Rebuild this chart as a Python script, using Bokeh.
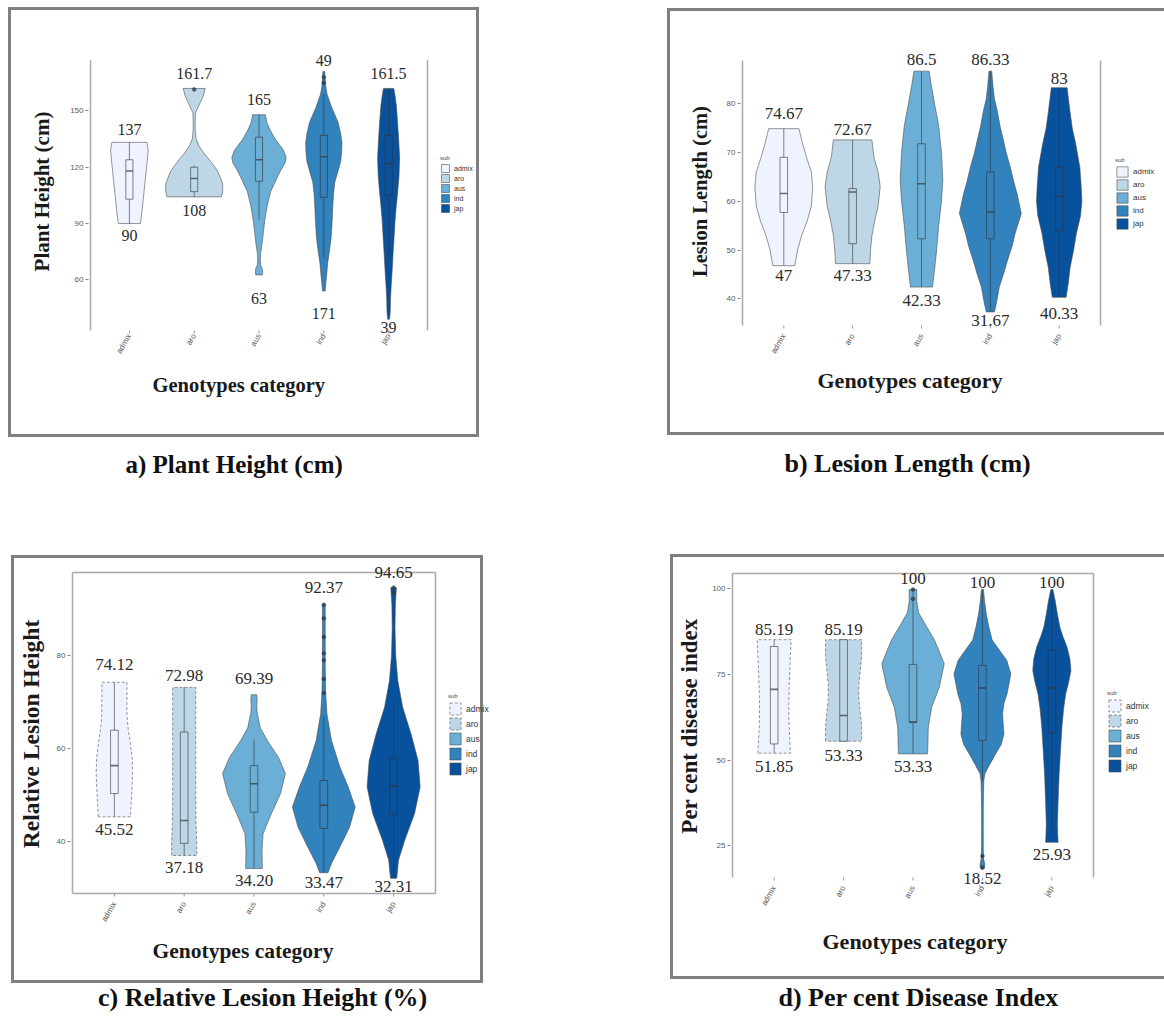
import math
from bokeh.plotting import figure
from bokeh.models import (ColumnDataSource, LabelSet, Legend, LegendItem, FixedTicker,
                          Range1d, Title)
from bokeh.layouts import column, row
from bokeh.embed import file_html
from bokeh.resources import INLINE

categories = ["admix", "aro", "aus", "ind", "jap"]
colors = ["#eff3ff", "#bdd7e7", "#6baed6", "#3182bd", "#08519c"]

# ---------------- a) Plant Height (cm) ----------------
ph_ticks = [60, 90, 120, 150]
ph_admix_lvl = [90, 95, 100, 105, 110, 115, 120, 125, 129, 133.3]
ph_admix_hw = [0.17, 0.19, 0.205, 0.22, 0.235, 0.25, 0.265, 0.28, 0.29, 0.27]
ph_aro_lvl = [104.2, 107, 111, 114, 118, 121, 125, 128, 131, 135, 140, 145, 149, 152, 155, 158, 162]
ph_aro_hw = [0.42, 0.44, 0.44, 0.41, 0.36, 0.3, 0.21, 0.14, 0.08, 0.03, 0.015, 0.015, 0.02, 0.06, 0.1, 0.14, 0.17]
ph_aus_lvl = [62.6, 64, 66, 68, 71, 74, 80, 86, 92, 100, 107, 113, 118, 122, 125, 129, 135, 140, 144, 148]
ph_aus_hw = [0.05, 0.055, 0.05, 0.025, 0.02, 0.025, 0.05, 0.07, 0.09, 0.13, 0.18, 0.26, 0.33, 0.4, 0.42, 0.38, 0.25, 0.17, 0.12, 0.1]
ph_ind_lvl = [54, 58, 63, 69, 76, 83, 92, 100, 106, 112, 118, 123, 128, 133, 138, 144, 148, 152, 156, 159, 163, 167, 171]
ph_ind_hw = [0.02, 0.03, 0.045, 0.06, 0.09, 0.115, 0.13, 0.14, 0.15, 0.17, 0.22, 0.26, 0.275, 0.28, 0.26, 0.22, 0.17, 0.12, 0.08, 0.05, 0.03, 0.02, 0.015]
ph_jap_lvl = [39, 43, 50, 57, 65, 74.5, 83, 92, 100, 107, 115, 125, 135, 143, 152.6, 158, 162]
ph_jap_hw = [0.015, 0.025, 0.03, 0.04, 0.055, 0.07, 0.085, 0.1, 0.12, 0.14, 0.16, 0.17, 0.155, 0.14, 0.12, 0.1, 0.08]
ph_q1 = [103, 107, 112.5, 104, 105]
ph_med = [118, 114, 124, 125.6, 122]
ph_q3 = [124, 120, 136, 137, 137]
ph_lo = [90, 104.2, 92, 72, 72]
ph_hi = [133.3, 121, 148, 159, 162]
ph_out_x = [2, 4, 4]
ph_out_y = [161.5, 165, 168]
ph_top_txt = ["137", "161.7", "165", "49", "161.5"]
ph_top_y = [140.1, 169.8, 156.2, 177.1, 169.8]
ph_bot_txt = ["90", "108", "63", "171", "39"]
ph_bot_y = [83.4, 96.9, 50.1, 41.8, 34.6]

# ---------------- b) Lesion Length (cm) ----------------
ll_ticks = [40, 50, 60, 70, 80]
ll_admix_lvl = [46.8, 50, 53, 56, 59, 62.9, 66, 69, 72, 74.9]
ll_admix_hw = [0.16, 0.2, 0.26, 0.34, 0.4, 0.42, 0.4, 0.33, 0.27, 0.22]
ll_aro_lvl = [47.2, 50, 53, 56, 59, 63, 66, 69, 72.6]
ll_aro_hw = [0.25, 0.26, 0.28, 0.32, 0.37, 0.4, 0.37, 0.31, 0.28]
ll_aus_lvl = [42.4, 46, 50, 55, 60, 64.5, 70, 75.5, 80, 84, 86.7]
ll_aus_hw = [0.16, 0.19, 0.22, 0.25, 0.29, 0.31, 0.29, 0.25, 0.19, 0.14, 0.11]
ll_ind_lvl = [37.3, 40, 42.4, 45, 47.9, 51, 53.4, 57.5, 61.5, 64, 67, 70, 72.5, 75.5, 78.6, 81, 83.4, 86.7]
ll_ind_hw = [0.06, 0.1, 0.13, 0.19, 0.25, 0.32, 0.36, 0.45, 0.39, 0.34, 0.29, 0.23, 0.19, 0.14, 0.1, 0.06, 0.04, 0.02]
ll_jap_lvl = [40.3, 43, 46.5, 50, 53.4, 57, 60, 63, 67, 71.8, 75, 78.6, 83.3]
ll_jap_hw = [0.1, 0.13, 0.16, 0.21, 0.25, 0.31, 0.33, 0.32, 0.3, 0.24, 0.19, 0.155, 0.115]
ll_q1 = [57.7, 51.3, 52.3, 52.3, 54]
ll_med = [61.6, 61.9, 63.6, 57.8, 61]
ll_q3 = [69, 62.6, 71.8, 66, 67]
ll_lo = [46.8, 47.2, 42.4, 37.3, 40.3]
ll_hi = [74.9, 72.6, 86.7, 86.7, 83.3]
ll_out_x = []
ll_out_y = []
ll_top_txt = ["74.67", "72.67", "86.5", "86.33", "83"]
ll_top_y = [78.0, 74.7, 89.1, 89.1, 85.2]
ll_bot_txt = ["47", "47.33", "42.33", "31.67", "40.33"]
ll_bot_y = [44.8, 44.8, 39.7, 35.6, 37.0]

# ---------------- c) Relative Lesion Height (%) ----------------
rl_ticks = [40, 60, 80]
rl_admix_lvl = [45.4, 48, 52, 55, 58, 61, 64, 67, 70, 74.3]
rl_admix_hw = [0.23, 0.24, 0.255, 0.26, 0.255, 0.23, 0.2, 0.18, 0.18, 0.18]
rl_aro_lvl = [37.1, 40, 44, 50, 56, 62, 68, 73.2]
rl_aro_hw = [0.18, 0.18, 0.17, 0.165, 0.165, 0.165, 0.165, 0.165]
rl_aus_lvl = [34.3, 38.3, 41.8, 46.1, 50.4, 54.7, 58.2, 61.8, 64.5, 67.8, 69, 70.5, 71.6]
rl_aus_hw = [0.12, 0.115, 0.13, 0.25, 0.38, 0.45, 0.35, 0.19, 0.09, 0.045, 0.04, 0.045, 0.04]
rl_ind_lvl = [33.4, 35.4, 38.9, 43.2, 47.5, 51.8, 56.1, 61.8, 67.5, 72.5, 78, 84, 90.9]
rl_ind_hw = [0.06, 0.11, 0.23, 0.37, 0.45, 0.35, 0.23, 0.11, 0.045, 0.025, 0.02, 0.02, 0.02]
rl_jap_lvl = [32.2, 36.1, 40.4, 46.1, 51.8, 57.5, 63.2, 68.9, 74.6, 80, 86, 91, 94.6]
rl_jap_hw = [0.045, 0.07, 0.16, 0.3, 0.38, 0.35, 0.25, 0.13, 0.06, 0.03, 0.02, 0.025, 0.04]
rl_q1 = [50.4, 39.7, 46.4, 42.9, 46]
rl_med = [56.4, 44.6, 52.5, 47.9, 52]
rl_q3 = [64, 63.6, 56.4, 53.2, 58]
rl_lo = [45.4, 37.1, 34.3, 33.4, 32.2]
rl_hi = [74.3, 73.2, 62, 67, 70]
rl_out_x = [4, 4, 4, 4, 4, 4, 4, 5, 5]
rl_out_y = [72, 75, 79, 80.5, 84, 88, 90.9, 93.5, 94.6]
rl_top_txt = ["74.12", "72.98", "69.39", "92.37", "94.65"]
rl_top_y = [78.2, 75.7, 75.0, 94.6, 97.9]
rl_bot_txt = ["45.52", "37.18", "34.20", "33.47", "32.31"]
rl_bot_y = [42.65, 34.5, 31.8, 31.2, 30.5]

# ---------------- d) Per cent Disease Index ----------------
pd_ticks = [25, 50, 75, 100]
pd_admix_lvl = [52, 56, 60, 65, 70.6, 76, 81, 85.1]
pd_admix_hw = [0.235, 0.225, 0.215, 0.21, 0.215, 0.225, 0.235, 0.245]
pd_aro_lvl = [55.5, 60, 64, 68, 72, 76, 80, 85.1]
pd_aro_hw = [0.26, 0.26, 0.24, 0.22, 0.22, 0.24, 0.26, 0.26]
pd_aus_lvl = [51.8, 55, 59.6, 65.4, 71.3, 78.1, 85, 89.8, 93, 96.3, 99.7]
pd_aus_hw = [0.21, 0.215, 0.22, 0.27, 0.38, 0.45, 0.31, 0.17, 0.08, 0.055, 0.055]
pd_ind_lvl = [18.5, 19.5, 21.5, 25, 30, 35, 40, 44, 46, 48.5, 51.8, 54.5, 57.6, 60.5, 63.5, 66.5, 69.3, 75.1, 79.1, 85, 89, 92.7, 96.5, 99.7]
pd_ind_hw = [0.03, 0.035, 0.015, 0.012, 0.012, 0.012, 0.015, 0.02, 0.035, 0.1, 0.19, 0.27, 0.31, 0.3, 0.29, 0.31, 0.355, 0.41, 0.35, 0.14, 0.09, 0.055, 0.03, 0.015]
pd_jap_lvl = [26, 28, 31.3, 38, 46, 53, 59.6, 65, 69.3, 72.5, 76.1, 79.5, 82.9, 86, 88.8, 92.5, 96.3, 99.7]
pd_jap_hw = [0.09, 0.085, 0.08, 0.09, 0.105, 0.125, 0.145, 0.17, 0.2, 0.24, 0.275, 0.26, 0.22, 0.16, 0.115, 0.08, 0.05, 0.015]
pd_q1 = [54.7, 55.5, 61, 55.7, 58]
pd_med = [70.6, 63, 61.1, 71, 71]
pd_q3 = [83.1, 85.1, 77.9, 77.6, 82]
pd_lo = [52, 55.5, 52, 44, 30]
pd_hi = [85.1, 85.1, 99.7, 99.7, 99.7]
pd_out_x = [3, 3, 4, 4]
pd_out_y = [97, 99.7, 18.6, 22]
pd_top_txt = ["85.19", "85.19", "100", "100", "100"]
pd_top_y = [88.0, 88.0, 102.9, 101.9, 101.9]
pd_bot_txt = ["51.85", "53.33", "53.33", "18.52", "25.93"]
pd_bot_y = [48.1, 51.3, 48.1, 15.4, 22.6]

SERIF = "Liberation Serif"
SANS = "Liberation Sans"
EX = 2              # extra frame pixels left of the drawn panel
HAX = 27            # height of the x tick-label band
TXT_H = 1.15        # text box height per font px
GREY = "#7f7f7f"


def css_lines(rects):
    g = f"linear-gradient({GREY},{GREY})"
    return {"background-image": ", ".join([g] * len(rects)),
            "background-position": ", ".join(f"{x}px {y}px" for x, y, w, h in rects),
            "background-size": ", ".join(f"{w}px {h}px" for x, y, w, h in rects),
            "background-repeat": "no-repeat"}


def border_pieces(border, ox, y0, y1, W):
    """Parts of the panel border falling inside the host spanning page rows y0..y1."""
    bl, bt, br, bb = border
    right = (br - ox) if br is not None else W + 5
    left = bl - ox
    rects = []
    if y0 <= bt < y1:
        rects.append((left, bt - y0, right - left, 3))
    top = max(bt, y0)
    bot = min(bb, y1)
    if bot > top:
        rects.append((left, top - y0, 3, bot - top))
        if br is not None:
            rects.append((right - 3, top - y0, 3, bot - top))
    if y0 <= bb - 3 < y1 or y0 < bb <= y1:
        rects.append((left, bb - 3 - y0, right - left, 3))
    return rects


def make_panel(W, H, HC, origin, vis, et, eb, mode, yr, yticks, profiles, stats, outl,
               top_lab, bot_lab, lines, border, caption, xtitle, ytitle, leg, lab_size, dashed):
    ox, oy = origin
    vl, vt, vr, vb = vis[0] - ox, vis[1] - oy, vis[2] - ox, vis[3] - oy
    ppx = (vr - vl) / 5.2
    ppy = (vb - vt) / (yr[1] - yr[0])
    al, at, ab = vl - EX, vt - et, vb + eb
    y_lo, y_hi = yr[0] - eb / ppy, yr[1] + et / ppy
    x_rng = Range1d(0.4 - EX / ppx, 0.4 + (W - vl) / ppx)
    y_rng = Range1d(y_lo, y_hi)
    if mode == "frame":
        size = dict(frame_width=W - al, frame_height=ab - at)
    else:
        size = dict(width=W, height=H)
    p = figure(x_range=x_rng, y_range=y_rng, output_backend="svg", toolbar_location=None,
               min_border_left=al, min_border_top=at,
               min_border_right=0, min_border_bottom=H - ab,
               styles=css_lines(border_pieces(border, ox, oy, oy + H, W)), **size)
    p.title.visible = False
    p.xgrid.visible = False
    p.ygrid.visible = False
    p.outline_line_color = None
    p.background_fill_color = None
    p.border_fill_color = None

    xa = p.xaxis[0]
    xa.ticker = FixedTicker(ticks=[1, 2, 3, 4, 5])
    xa.major_label_overrides = {i + 1: c for i, c in enumerate(categories)}
    xa.major_label_orientation = math.pi / 3
    xa.axis_line_color = None
    xa.major_tick_line_color = None
    xa.major_tick_out = 0
    xa.major_tick_in = 0
    xa.minor_tick_line_color = None
    xa.major_label_text_font = SANS
    xa.major_label_text_font_size = "8px"
    xa.major_label_text_color = "#5a5a5a"
    xa.major_label_standoff = 0

    ytext, ysize, ystand = ytitle
    ya = p.yaxis[0]
    ya.ticker = FixedTicker(ticks=yticks)
    ya.axis_line_color = None
    ya.major_tick_line_color = "#888888"
    ya.major_tick_out = 3
    ya.major_tick_in = 0
    ya.minor_tick_line_color = None
    ya.major_label_text_font = SANS
    ya.major_label_text_font_size = "8px"
    ya.major_label_text_color = "#5a5a5a"
    ya.major_label_standoff = 2
    ya.axis_label = ytext
    ya.axis_label_text_font = SERIF
    ya.axis_label_text_font_style = "bold"
    ya.axis_label_text_font_size = ysize
    ya.axis_label_text_color = "#1a1a1a"
    ya.axis_label_standoff = ystand

    # frame lines
    lc = "#a8a8a8"
    x0s, y0s, x1s, y1s = [0.4, 5.6], [yr[0], yr[0]], [0.4, 5.6], [yr[1], yr[1]]
    if "t" in lines:
        x0s.append(0.4); y0s.append(yr[1]); x1s.append(5.6); y1s.append(yr[1])
    if "b" in lines:
        x0s.append(0.4); y0s.append(yr[0]); x1s.append(5.6); y1s.append(yr[0])
    p.segment(x0=x0s, y0=y0s, x1=x1s, y1=y1s, line_color=lc, line_width=1.5)
    xc = [i + 1 for i in range(5)]
    p.segment(x0=xc, y0=[yr[0]] * 5, x1=xc, y1=[yr[0] - 3 / ppy] * 5,
              line_color="#999999", line_width=1)

    # violins
    rends = []
    for i, (lvl, hw) in enumerate(profiles):
        c = i + 1
        xs = [c - w for w in hw] + [c + w for w in reversed(hw)]
        ys = list(lvl) + list(reversed(lvl))
        dash = "3 2" if (dashed and i < 2) else "solid"
        r = p.patch(xs, ys, fill_color=colors[i], line_color="#4d4d4d", line_alpha=0.65,
                    line_width=0.9, line_dash=dash)
        rends.append(r)

    q1, med, q3, lo, hi = stats
    bw = 0.055
    p.segment(x0=xc, y0=lo, x1=xc, y1=hi, line_color="#333333", line_alpha=0.6, line_width=1)
    p.quad(left=[x - bw for x in xc], right=[x + bw for x in xc], bottom=q1, top=q3,
           fill_color=colors, line_color="#333333", line_alpha=0.6, line_width=1)
    p.segment(x0=[x - bw for x in xc], y0=med, x1=[x + bw for x in xc], y1=med,
              line_color="#333333", line_alpha=0.7, line_width=1.6)
    if outl[0]:
        p.scatter(x=outl[0], y=outl[1], size=3.5, color="#2c3e50", alpha=0.8)

    for txts, ys in (top_lab, bot_lab):
        src = ColumnDataSource(dict(x=xc, y=ys, t=txts))
        p.add_layout(LabelSet(x="x", y="y", text="t", source=src, text_align="center",
                              text_baseline="middle", text_font=SERIF,
                              text_font_size=lab_size, text_color="#2a2a2a"))

    # legend (inside the widened frame)
    kx, kb, gw, gh, lsz = leg
    kx, kb = kx - ox, kb - oy
    items = [LegendItem(label=categories[i], renderers=[rends[i]]) for i in range(5)]
    legend = Legend(items=items, location=(kx - al, ab - kb), title="sub",
                    title_text_font_size="6px", title_text_font=SANS,
                    title_text_color="#444444", title_standoff=2,
                    label_text_font=SANS, label_text_font_size=lsz, label_text_color="#333333",
                    glyph_width=gw, glyph_height=gh, label_height=gh, spacing=0, padding=0,
                    margin=0, border_line_color=None, background_fill_alpha=0,
                    label_standoff=4)
    p.add_layout(legend)

    # x title below the tick labels
    xleft, xcy, xsize = xtitle
    xcy = xcy - oy
    th = TXT_H * float(xsize[:-2])
    s1 = max(0.0, 2 * (xcy - ab - HAX - 2 - th / 2))
    p.add_layout(Title(text="Genotypes category", align="left", offset=xleft - ox - al,
                       standoff=round(s1), text_font=SERIF, text_font_style="bold",
                       text_font_size=xsize, text_color="#1a1a1a"), "below")

    # caption strip under the panel
    ctext, cleft, ccy, csize = caption
    ch = TXT_H * float(csize[:-2])
    crel = ccy - (oy + H)
    top = max(round(crel + ch / 2) - 2, math.ceil(2 + ch))
    cap = figure(width=W, height=HC, x_range=Range1d(0, 1), y_range=Range1d(0, 1),
                 output_backend="svg", toolbar_location=None,
                 x_axis_location=None, y_axis_location=None,
                 min_border_left=0, min_border_right=0, min_border_bottom=0,
                 min_border_top=top, title=ctext,
                 styles=css_lines(border_pieces(border, ox, oy + H, oy + H + HC, W)))
    cap.grid.visible = False
    cap.title.align = "left"
    cap.title.offset = cleft - ox
    cap.title.standoff = 0
    cap.title.text_font = SERIF
    cap.title.text_font_style = "bold"
    cap.title.text_font_size = csize
    cap.title.text_color = "#111111"
    cap.outline_line_color = None
    cap.background_fill_color = None
    cap.border_fill_color = None
    return p, cap


R1, C1, R2, C2 = 445, 79, 455, 44

pa, ca = make_panel(
    580, R1, C1, (0, 0), (90, 53, 427, 330), 12, 4, "size", (32.94, 177.05), ph_ticks,
    [(ph_admix_lvl, ph_admix_hw), (ph_aro_lvl, ph_aro_hw), (ph_aus_lvl, ph_aus_hw),
     (ph_ind_lvl, ph_ind_hw), (ph_jap_lvl, ph_jap_hw)],
    (ph_q1, ph_med, ph_q3, ph_lo, ph_hi), (ph_out_x, ph_out_y),
    (ph_top_txt, ph_top_y), (ph_bot_txt, ph_bot_y), "",
    (8, 7, 479, 437), ("a)  Plant Height (cm)", 125, 463, "25px"), (152, 386, "20.5px"),
    ("Plant Height (cm)", "21px", 13), (440, 213, 10, 10, "7px"), "16px", False)

pb, cb = make_panel(
    584, R1, C1, (580, 0), (742, 60, 1100, 325), 12, 9, "frame", (34.52, 88.88), ll_ticks,
    [(ll_admix_lvl, ll_admix_hw), (ll_aro_lvl, ll_aro_hw), (ll_aus_lvl, ll_aus_hw),
     (ll_ind_lvl, ll_ind_hw), (ll_jap_lvl, ll_jap_hw)],
    (ll_q1, ll_med, ll_q3, ll_lo, ll_hi), (ll_out_x, ll_out_y),
    (ll_top_txt, ll_top_y), (ll_bot_txt, ll_bot_y), "",
    (667, 8, None, 435), ("b) Lesion Length (cm)", 784, 463, "26px"), (817, 381, "22px"),
    ("Lesion Length (cm)", "20.5px", 13), (1115, 230, 14, 13, "8px"), "17px", False)

pc, cc = make_panel(
    580, R2, C2, (0, 524), (72, 572, 435, 893), 7, 9, "frame", (28.94, 97.85), rl_ticks,
    [(rl_admix_lvl, rl_admix_hw), (rl_aro_lvl, rl_aro_hw), (rl_aus_lvl, rl_aus_hw),
     (rl_ind_lvl, rl_ind_hw), (rl_jap_lvl, rl_jap_hw)],
    (rl_q1, rl_med, rl_q3, rl_lo, rl_hi), (rl_out_x, rl_out_y),
    (rl_top_txt, rl_top_y), (rl_bot_txt, rl_bot_y), "tb",
    (11, 555, 483, 983), ("c) Relative Lesion Height (%)", 97.5, 998, "26px"), (152, 952, "21.5px"),
    ("Relative Lesion Height", "23.5px", 10), (448, 776, 14, 15, "8.5px"), "17px", True)

pd, cd = make_panel(
    584, R2, C2, (580, 524), (732, 573, 1093, 877), 8, 9, "frame", (15.75, 104.4), pd_ticks,
    [(pd_admix_lvl, pd_admix_hw), (pd_aro_lvl, pd_aro_hw), (pd_aus_lvl, pd_aus_hw),
     (pd_ind_lvl, pd_ind_hw), (pd_jap_lvl, pd_jap_hw)],
    (pd_q1, pd_med, pd_q3, pd_lo, pd_hi), (pd_out_x, pd_out_y),
    (pd_top_txt, pd_top_y), (pd_bot_txt, pd_bot_y), "t",
    (670, 554, None, 979), ("d) Per cent Disease Index", 778, 998, "26px"), (822, 942, "22px"),
    ("Per cent disease index", "23px", 7), (1107, 773, 15, 15, "8.5px"), "17px", True)

layout = column(row(pa, pb), row(ca, cb), row(pc, pd), row(cc, cd))
open("out.html", "w").write(file_html(layout, INLINE))
